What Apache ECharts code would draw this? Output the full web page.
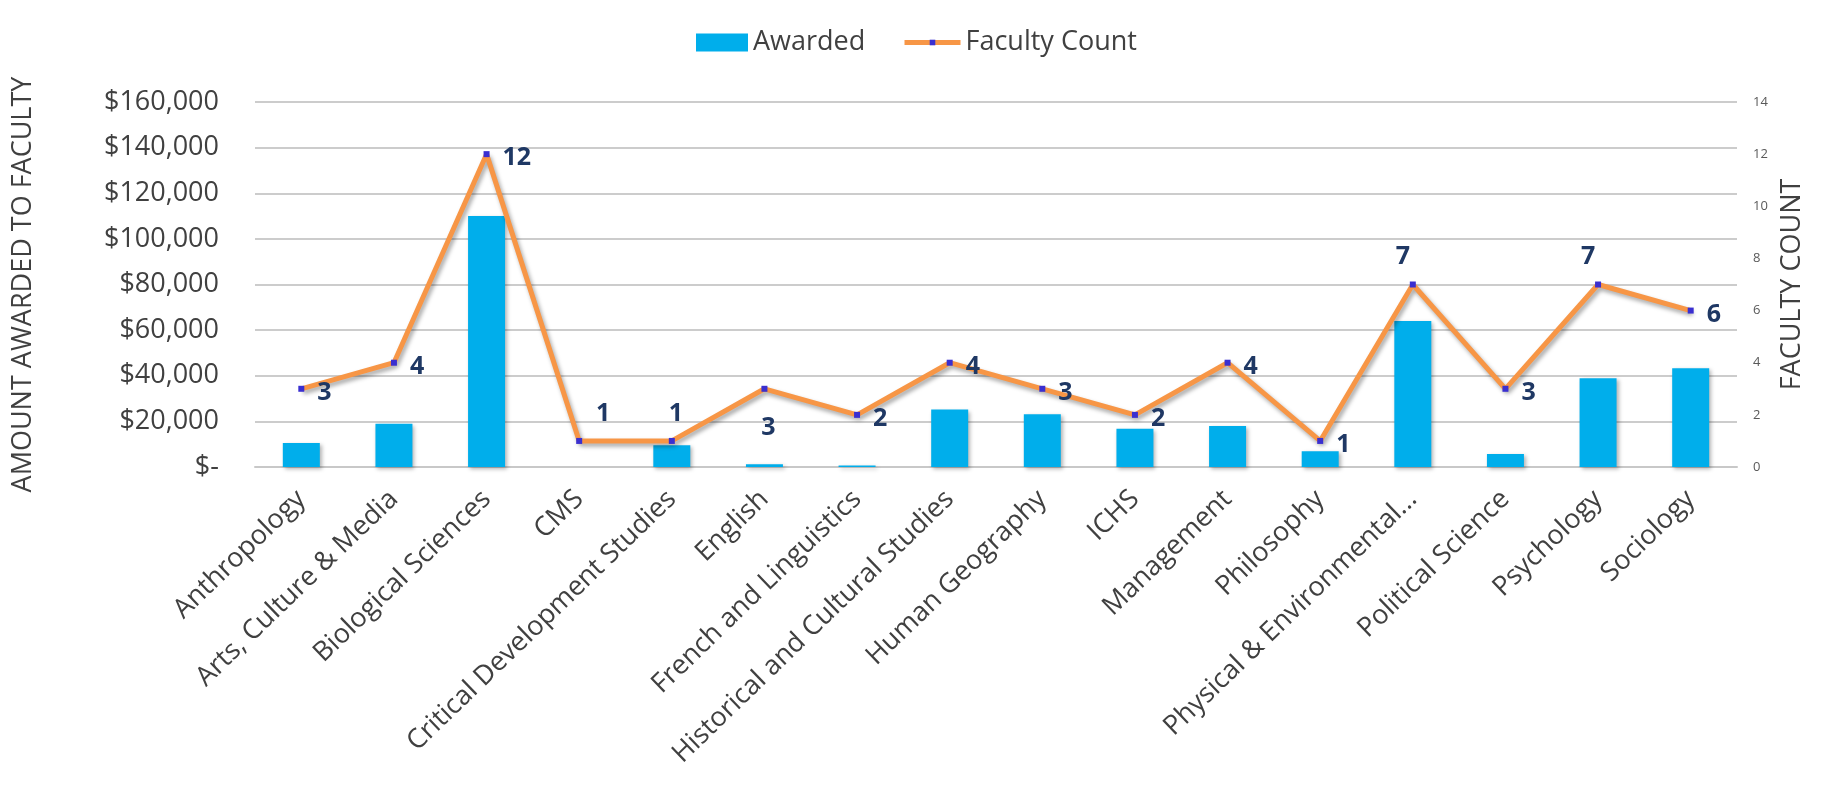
<!DOCTYPE html>
<html>
<head>
<meta charset="utf-8">
<script src="https://cdn.jsdelivr.net/npm/echarts@6/dist/echarts.min.js"></script>
<style>
  html, body { margin: 0; padding: 0; background: #ffffff; }
  #chart { width: 1821px; height: 786px; }
</style>
</head>
<body>
<div id="chart"></div>
<script>
var departments = ["Anthropology", "Arts, Culture & Media", "Biological Sciences", "CMS",
  "Critical Development Studies", "English", "French and Linguistics",
  "Historical and Cultural Studies", "Human Geography", "ICHS", "Management",
  "Philosophy", "Physical & Environmental...", "Political Science", "Psychology", "Sociology"];
var awarded = [10500, 19000, 110000, 0, 9500, 1200, 700, 25200, 23100, 16800, 18000,
  6900, 64000, 5700, 38900, 43300];
var facultyCount = [3, 4, 12, 1, 1, 3, 2, 4, 3, 2, 4, 1, 7, 3, 7, 6];
var amountTicks = ["$-", "$20,000", "$40,000", "$60,000", "$80,000", "$100,000",
  "$120,000", "$140,000", "$160,000"];
// where each count label sits relative to its point
var labelPlaces = ["right", "right", "right", "top", "top", "bottom", "right", "right",
  "right", "right", "right", "right", "top", "right", "top", "right"];

var FONT = "'Open Sans', 'Noto Sans', sans-serif";
var TEXT = "#404040";

var myChart = echarts.init(document.getElementById("chart"));

var lineData = facultyCount.map(function (v, i) {
  var pos = labelPlaces[i];
  var lab = { position: pos };
  if (pos === "right") { lab.distance = 13; lab.offset = [0, 4]; }
  if (pos === "top") { lab.distance = 12; lab.offset = [i === 3 ? 24 : (i === 4 ? 4 : -10), 0]; }
  if (pos === "bottom") { lab.distance = 24; lab.offset = [4, 0]; }
  return { value: v, label: lab };
});

var legendText = { fontSize: 27, color: TEXT, fontFamily: FONT };

myChart.setOption({
  animation: false,
  textStyle: { fontFamily: FONT },
  // two legends so the line marker in the key stays small
  legend: [
    {
      top: 24,
      left: 691,
      itemWidth: 52,
      itemHeight: 18,
      textStyle: legendText,
      data: [{ name: "Awarded", icon: "rect" }]
    },
    {
      top: 24,
      left: 897,
      itemWidth: 56,
      itemHeight: 7,
      textStyle: legendText,
      lineStyle: { width: 5, color: "#f79646" },
      data: ["Faculty Count"]
    }
  ],
  grid: {
    left: 255,
    right: 84,
    top: 102,
    bottom: 319
  },
  xAxis: {
    type: "category",
    data: departments,
    axisLine: { lineStyle: { color: "#c8c8c8", width: 2 } },
    axisTick: { show: false },
    axisLabel: {
      interval: 0,
      rotate: 44,
      margin: 28,
      fontSize: 27,
      color: TEXT,
      fontFamily: FONT
    }
  },
  yAxis: [
    {
      type: "value",
      min: 0,
      max: 160000,
      interval: 20000,
      name: "AMOUNT AWARDED TO FACULTY",
      nameLocation: "middle",
      nameRotate: 90,
      nameGap: 218,
      nameTextStyle: { fontSize: 27, color: TEXT, fontFamily: FONT },
      axisLine: { show: false },
      axisTick: { show: false },
      axisLabel: {
        margin: 36,
        fontSize: 27,
        color: TEXT,
        fontFamily: FONT,
        formatter: function (v) { return amountTicks[Math.round(v / 20000)]; }
      },
      splitLine: { lineStyle: { color: "#cccccc", width: 2 } }
    },
    {
      type: "value",
      min: 0,
      max: 14,
      interval: 2,
      name: "FACULTY COUNT",
      nameLocation: "middle",
      nameRotate: 90,
      nameGap: 36,
      nameTextStyle: { fontSize: 27, color: TEXT, fontFamily: FONT },
      axisLine: { show: false },
      axisTick: { show: false },
      splitLine: { show: false },
      axisLabel: { margin: 16, fontSize: 13, color: "#595959", fontFamily: FONT }
    }
  ],
  series: [
    {
      name: "Awarded",
      type: "bar",
      yAxisIndex: 0,
      data: awarded,
      barWidth: 37,
      itemStyle: {
        color: "#00aeeb",
        shadowColor: "rgba(0,0,0,0.3)",
        shadowBlur: 4,
        shadowOffsetX: 2,
        shadowOffsetY: 2
      }
    },
    {
      name: "Faculty Count",
      type: "line",
      yAxisIndex: 1,
      data: lineData,
      symbol: "rect",
      symbolSize: 6,
      z: 5,
      lineStyle: {
        color: "#f79646",
        width: 5,
        shadowColor: "rgba(0,0,0,0.35)",
        shadowBlur: 4,
        shadowOffsetX: 2,
        shadowOffsetY: 3
      },
      itemStyle: { color: "#3a2fd0", borderWidth: 0 },
      label: {
        show: true,
        fontSize: 25,
        fontWeight: "bold",
        color: "#1f3864",
        fontFamily: FONT
      }
    }
  ]
});
</script>
</body>
</html>
